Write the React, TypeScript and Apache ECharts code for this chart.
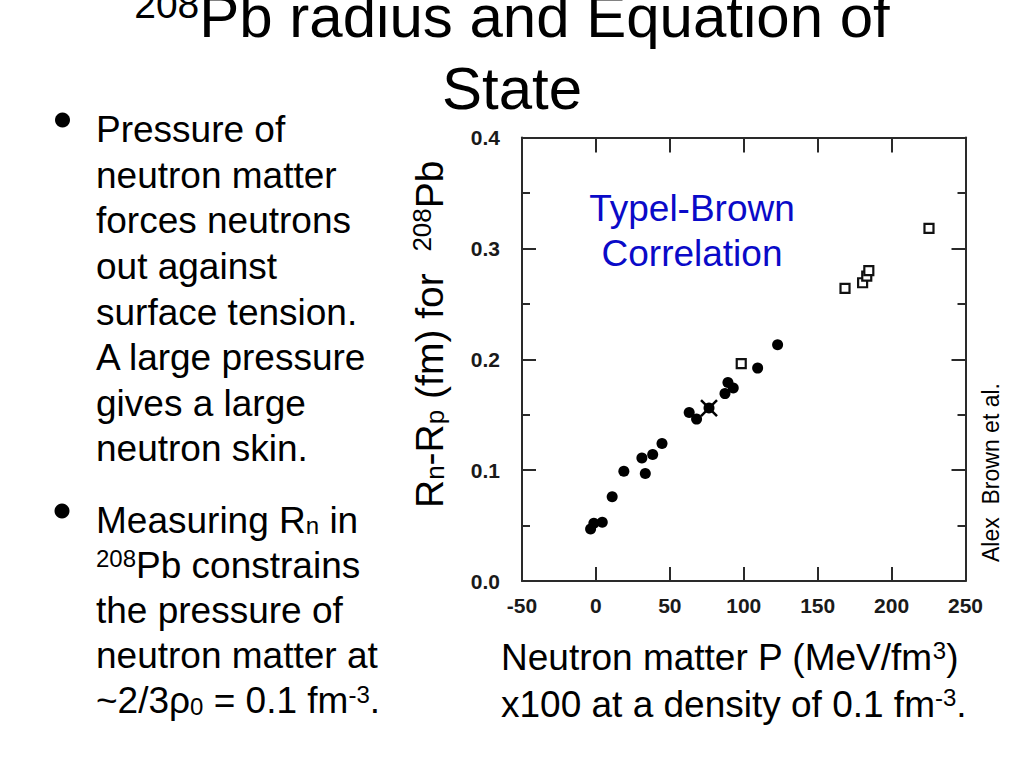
import React, { useEffect, useRef } from "react";
import * as echarts from "echarts";

const FONT = '"Liberation Sans", Arial, sans-serif';

// Filled circles (model predictions)
const circleX = [-3.6, -1.4, 4.3, 11.0, 18.9, 31.1, 33.4, 38.4, 44.7, 63.1, 68.1, 76.5, 87.3, 89.3, 92.9, 109.4, 122.9];
const circleY = [0.047, 0.052, 0.053, 0.076, 0.099, 0.111, 0.097, 0.114, 0.124, 0.152, 0.146, 0.156, 0.169, 0.179, 0.174, 0.192, 0.213];
// Open squares
const squareX = [98.3, 168.5, 180.4, 183.2, 184.6, 225.3];
const squareY = [0.196, 0.264, 0.269, 0.275, 0.28, 0.318];
// Cross marker
const crossX = [76.5];
const crossY = [0.156];

const xMin = -50;
const xMax = 250;
const xStep = 50;
const yMin = 0;
const yMax = 0.4;
const yStep = 0.1;

let mctx: CanvasRenderingContext2D | null = null;
function measure(t: string, size: number, weight = "normal") {
  if (!mctx) mctx = document.createElement("canvas").getContext("2d");
  mctx!.font = `${weight} ${size}px ${FONT}`;
  return mctx!.measureText(t).width;
}

const K = 0.35;
type Seg = { t: string; s?: number; dy?: number };

function runs(x0: number, base: number, segs: Seg[], size: number, fill: string, align = "left") {
  const widths = segs.map((sg) => measure(sg.t, sg.s ?? size));
  const total = widths.reduce((a, b) => a + b, 0);
  let x = align === "center" ? x0 - total / 2 : x0;
  const out: any[] = [];
  segs.forEach((sg, i) => {
    const s = sg.s ?? size;
    const lead = sg.t.match(/^\s*/)![0];
    const trimmed = sg.t.trim();
    const lw = lead ? measure(lead, s) : 0;
    if (trimmed) {
      out.push({
        type: "text",
        x: x + lw,
        y: base + (sg.dy ?? 0) - K * s,
        silent: true,
        style: { text: trimmed, fontSize: s, fontFamily: FONT, fill, align: "left", verticalAlign: "middle" },
      });
    }
    x += widths[i];
  });
  return out;
}

const bullet1 = [
  "Pressure of",
  "neutron matter",
  "forces neutrons",
  "out against",
  "surface tension.",
  "A large pressure",
  "gives a large",
  "neutron skin.",
];

function buildGraphic() {
  const g: any[] = [];
  const B = 37;
  const S = 24;
  // Title
  g.push(...runs(512, 37, [{ t: "208", s: 39, dy: -18.5 }, { t: "Pb radius and Equation of" }], 60, "#000", "center"));
  g.push(...runs(512, 109, [{ t: "State" }], 60, "#000", "center"));
  // Bullets
  g.push({ type: "circle", silent: true, shape: { cx: 62.5, cy: 120, r: 7.5 }, style: { fill: "#000" } });
  g.push({ type: "circle", silent: true, shape: { cx: 62, cy: 511, r: 7.5 }, style: { fill: "#000" } });
  bullet1.forEach((line, i) => {
    g.push(...runs(96, 142.7 + i * 45.6, [{ t: line }], B, "#000"));
  });
  const b2: Seg[][] = [
    [{ t: "Measuring R" }, { t: "n", s: S, dy: 1 }, { t: " in" }],
    [{ t: "208", s: S, dy: -11 }, { t: "Pb constrains" }],
    [{ t: "the pressure of" }],
    [{ t: "neutron matter at" }],
    [{ t: "~2/3ρ" }, { t: "0", s: S, dy: 1 }, { t: " = 0.1 fm" }, { t: "-3", s: S, dy: -11 }, { t: "." }],
  ];
  b2.forEach((segs, i) => {
    g.push(...runs(96, 533 + i * 45.1, segs, B, "#000"));
  });
  // X axis title
  g.push(...runs(501, 670, [{ t: "Neutron matter P (MeV/fm" }, { t: "3", s: S, dy: -11 }, { t: ")" }], B, "#000"));
  g.push(...runs(501, 717, [{ t: "x100 at a density of 0.1 fm" }, { t: "-3", s: S, dy: -11 }, { t: "." }], B, "#000"));
  // Y axis title (rotated)
  g.push({
    type: "group",
    x: 442.7,
    y: 508,
    rotation: Math.PI / 2,
    silent: true,
    children: runs(
      0,
      0,
      [
        { t: "R" },
        { t: "n", s: 26, dy: 1 },
        { t: "-R" },
        { t: "p", s: 26, dy: 1 },
        { t: " (fm) for  " },
        { t: "208", s: 26, dy: -12 },
        { t: "Pb" },
      ],
      39,
      "#000"
    ),
  });
  // Credit
  g.push({
    type: "group",
    x: 999,
    y: 562,
    rotation: Math.PI / 2,
    silent: true,
    children: runs(0, 0, [{ t: "Alex  " }, { t: "Brown et al." }], 23, "#000"),
  });
  // Annotation
  g.push(...runs(692, 221, [{ t: "Typel-Brown" }], B, "#0a0ac8", "center"));
  g.push(...runs(692, 266, [{ t: "Correlation" }], B, "#0a0ac8", "center"));
  return g;
}

function buildOption() {
  const lineStyle = { color: "#2a2a2a", width: 2 };
  const label = { fontSize: 21, fontWeight: "bold" as const, color: "#1a1a1a", fontFamily: FONT };
  const xBase = { type: "value" as const, min: xMin, max: xMax, interval: xStep, splitLine: { show: false } };
  const yBase = { type: "value" as const, min: yMin, max: yMax, interval: yStep, splitLine: { show: false }, minorSplitLine: { show: false } };
  return {
    animation: false,
    backgroundColor: "#fff",
    grid: { left: 522, right: 58.5, top: 137.5, bottom: 187, containLabel: false },
    xAxis: [
      {
        ...xBase,
        position: "bottom",
        axisLine: { show: true, onZero: false, lineStyle },
        axisTick: { show: true, inside: true, length: 14, lineStyle },
        axisLabel: { ...label, margin: 14 },
      },
      {
        ...xBase,
        position: "top",
        axisLine: { show: true, onZero: false, lineStyle },
        axisTick: { show: true, inside: true, length: 15, lineStyle },
        axisLabel: { show: false },
      },
    ],
    yAxis: [
      {
        ...yBase,
        position: "left",
        axisLine: { show: true, onZero: false, lineStyle },
        axisTick: { show: true, inside: true, length: 14, lineStyle },
        minorTick: { show: true, splitNumber: 2, length: 8, lineStyle },
        axisLabel: { ...label, margin: 22, formatter: (v: number) => v.toFixed(1) },
      },
      {
        ...yBase,
        position: "right",
        axisLine: { show: true, onZero: false, lineStyle },
        axisTick: { show: true, inside: true, length: 14, lineStyle },
        minorTick: { show: true, splitNumber: 2, length: 8, lineStyle },
        axisLabel: { show: false },
      },
    ],
    series: [
      {
        type: "scatter",
        xAxisIndex: 0,
        yAxisIndex: 0,
        symbol: "circle",
        symbolSize: 11,
        itemStyle: { color: "#000", opacity: 1 },
        data: circleX.map((x, i) => [x, circleY[i]]),
      },
      {
        type: "scatter",
        xAxisIndex: 0,
        yAxisIndex: 0,
        symbol: "rect",
        symbolSize: 9,
        itemStyle: { color: "#fff", borderColor: "#111", borderWidth: 2.2, opacity: 1 },
        data: squareX.map((x, i) => [x, squareY[i]]),
      },
      {
        type: "scatter",
        xAxisIndex: 0,
        yAxisIndex: 0,
        symbol: "path://M0,0L10,10M10,0L0,10",
        symbolSize: 16,
        itemStyle: { color: "transparent", borderColor: "#000", borderWidth: 2.5, opacity: 1 },
        data: crossX.map((x, i) => [x, crossY[i]]),
      },
    ],
    graphic: buildGraphic(),
  };
}

export default function App() {
  const ref = useRef<HTMLDivElement>(null);
  useEffect(() => {
    const chart = echarts.init(ref.current!, null, { renderer: "svg" });
    chart.setOption(buildOption() as any);
    return () => chart.dispose();
  }, []);
  return (
    <div
      ref={ref}
      style={{ position: "fixed", left: 0, top: 0, width: 1024, height: 768, background: "#fff" }}
    />
  );
}
